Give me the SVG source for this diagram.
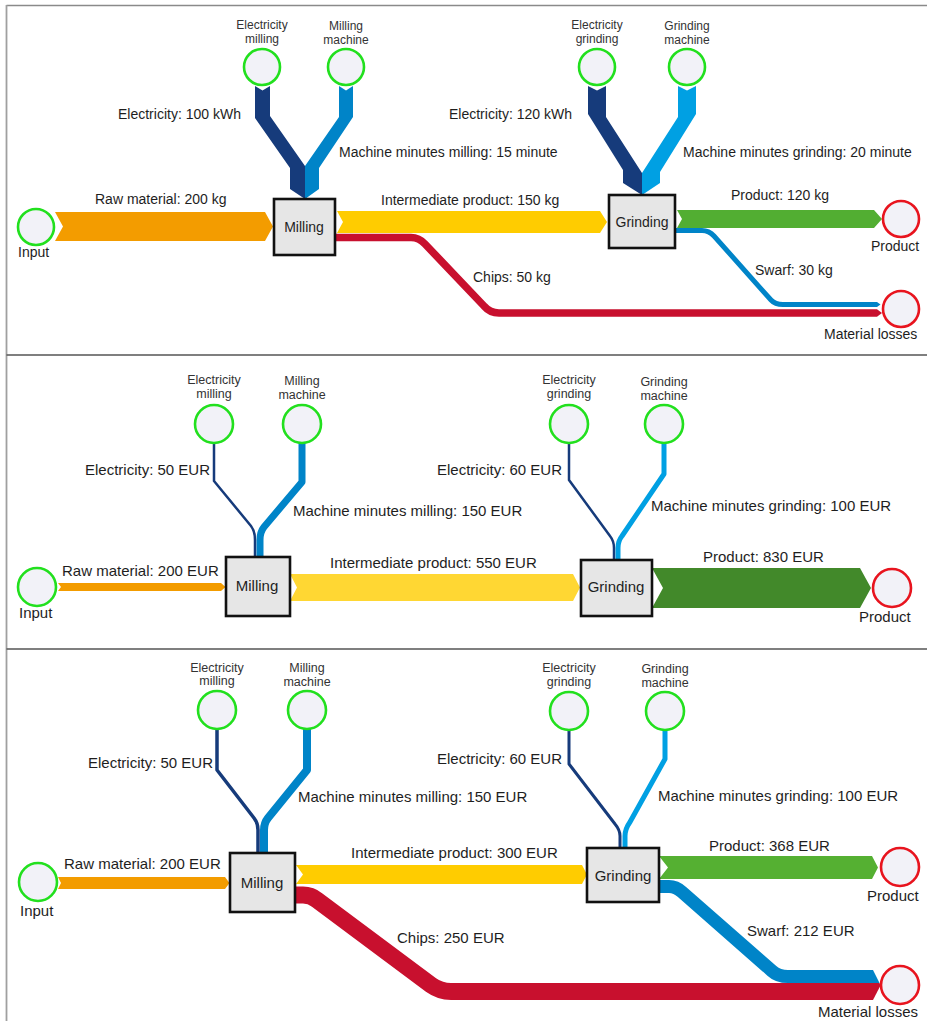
<svg xmlns="http://www.w3.org/2000/svg" width="927" height="1021" viewBox="0 0 927 1021">
  <style>
    text { font-family: "Liberation Sans", Arial, sans-serif; fill: #1e1e1e; }
    .t14 { font-size: 14px; }
    .t15 { font-size: 15px; }
    .s12 { font-size: 12px; fill: #333; text-anchor: middle; }
    .s125 { font-size: 12.5px; fill: #333; text-anchor: middle; }
    .mid { text-anchor: middle; }
    .src { fill: #f2f2f8; stroke: #22e01e; stroke-width: 2.6; }
    .snk { fill: #f2f2f8; stroke: #e8141e; stroke-width: 2.6; }
    .proc { fill: #e6e6e6; stroke: #111; stroke-width: 2.6; }
    .dk { fill: #163b7b; }
    .lb1 { fill: #0084c8; }
    .lb2 { fill: #00a0e3; }
    .sdk { fill: none; stroke: #163b7b; stroke-linejoin: round; }
    .slb1 { fill: none; stroke: #0084c8; stroke-linejoin: round; }
    .slb2 { fill: none; stroke: #00a0e3; stroke-linejoin: round; }
    .sred { fill: none; stroke: #c8102e; stroke-linejoin: round; }
    .red { fill: #c8102e; }
    .org { fill: #f39c00; }
    .frame { stroke: #555; stroke-width: 1.5; }
  </style>

  <!-- panel frame -->
  <g id="frame">
    <line x1="6.5" y1="5.5" x2="927" y2="5.5" stroke="#8a8a8a" stroke-width="1.5"/>
    <line x1="6.5" y1="5" x2="6.5" y2="1021" stroke="#a0a0a0" stroke-width="1.8"/>
    <line class="frame" x1="6.5" y1="355" x2="927" y2="355"/>
    <line class="frame" x1="6.5" y1="649" x2="927" y2="649"/>
  </g>

  <!-- ================= connectors ================= -->
  <g id="connectors">
    <!-- panel 1: mass / energy / time -->
    <polygon class="org" points="55,212 265,212 273,226.5 265,241 55,241 63,226.5"/>
    <polygon class="dk" points="255,86 262.5,90.5 270,86 270,116 305,166 305,199 290,189 290,168 255,118"/>
    <polygon class="lb1" points="339,86 346,90.5 353,86 353,117 319,168 319,189 305,199 305,166 339,117"/>
    <polygon fill="#ffcc00" points="337,211 600,211 607,222 600,233 337,233 343,222"/>
    <path class="sred" stroke-width="7.5" d="M335,237.5 H411 Q419,237.5 425,244 L484,306 Q490,313 499,313 H877"/>
    <polygon class="red" points="877,309.2 882,313 877,316.8"/>
    <polygon class="dk" points="588,86 597,90.5 606,86 606,117 642,173 642,195 623,183 623,170 588,114"/>
    <polygon class="lb2" points="678,86 687,90.5 696,86 696,114 660,172 660,183 642,195 642,173 678,117"/>
    <polygon fill="#52ae32" points="677,210 874,210 882,219 874,228 677,228 682,219"/>
    <path class="slb1" stroke-width="5" d="M675,230.5 H702 Q709,230.5 714,236 L771,300 Q775,304.5 783,304.5 H877"/>
    <polygon class="lb1" points="877,302 880.5,304.5 877,307"/>

    <!-- panel 2: costs -->
    <polygon class="org" points="58,583 221,583 225.5,587 221,591 58,591 61,587"/>
    <path class="sdk" stroke-width="2.5" d="M214,443 V481 L251,526 Q255,531 255,540 V557"/>
    <path class="slb1" stroke-width="7" d="M302,443 V482 L264,527 Q260,532 260,540 V557"/>
    <polygon fill="#ffd733" points="290,574 573,574 580,587.5 573,601 290,601 297,587.5"/>
    <path class="sdk" stroke-width="2.5" d="M569,443 V480 L610,536 Q614,541 614,548 V560"/>
    <path class="slb2" stroke-width="5" d="M664,443 V474 L622,536 Q618,541 618,548 V560"/>
    <polygon fill="#42892a" points="652,568 860,568 871,588 860,608 652,608 663,588"/>

    <!-- panel 3: costs with losses -->
    <polygon class="org" points="58,877 225,877 229.5,883 225,889 58,889 61,883"/>
    <path class="sdk" stroke-width="3.5" d="M217,729 V770 L254,818 Q258,823 258,830 V853"/>
    <path class="slb1" stroke-width="8" d="M307,729 V770 L268,818 Q264,823 264,830 V853"/>
    <polygon fill="#ffcc00" points="296,865 582,865 587,874.5 582,884 296,884 303,874.5"/>
    <path class="sred" stroke-width="17" d="M295,895 H303 Q311,895 317,900 L431,985 Q440,991.5 451,991.5 H873"/>
    <path class="sdk" stroke-width="3" d="M569,729 V764 L615,824 Q620,830 620,836 V848"/>
    <path class="slb2" stroke-width="5" d="M665,729 V759 L630,822 Q625,829 625,836 V848"/>
    <polygon fill="#55b032" points="659,856 872,856 878,867.5 872,879 659,879 668,867.5"/>
    <path class="slb1" stroke-width="13" d="M659,886.5 H669 Q676,886.5 682,892 L772,971 Q778,976.5 788,976.5 H873"/>
    <polygon class="lb1" points="873,970 879.5,983 873,983"/>
    <polygon class="red" points="873,983 879.5,983 880.5,985.5 873,1000"/>
  </g>

  <!-- connector labels -->
  <g id="flow-labels">
    <text class="t14" x="118" y="119">Electricity: 100 kWh</text>
    <text class="t14" x="339" y="157">Machine minutes milling: 15 minute</text>
    <text class="t14" x="95" y="204">Raw material: 200 kg</text>
    <text class="t14" x="381" y="205">Intermediate product: 150 kg</text>
    <text class="t14" x="473" y="282">Chips: 50 kg</text>
    <text class="t14" x="449" y="119">Electricity: 120 kWh</text>
    <text class="t14" x="683" y="157">Machine minutes grinding: 20 minute</text>
    <text class="t14" x="731" y="200">Product: 120 kg</text>
    <text class="t14" x="755" y="275">Swarf: 30 kg</text>

    <text class="t15" x="85" y="475">Electricity: 50 EUR</text>
    <text class="t15" x="293" y="516">Machine minutes milling: 150 EUR</text>
    <text class="t15" x="62" y="576">Raw material: 200 EUR</text>
    <text class="t15" x="330" y="568">Intermediate product: 550 EUR</text>
    <text class="t15" x="437" y="475">Electricity: 60 EUR</text>
    <text class="t15" x="651" y="511">Machine minutes grinding: 100 EUR</text>
    <text class="t15" x="703" y="562">Product: 830 EUR</text>

    <text class="t15" x="88" y="768">Electricity: 50 EUR</text>
    <text class="t15" x="298" y="802">Machine minutes milling: 150 EUR</text>
    <text class="t15" x="64" y="869">Raw material: 200 EUR</text>
    <text class="t15" x="351" y="858">Intermediate product: 300 EUR</text>
    <text class="t15" x="397" y="943">Chips: 250 EUR</text>
    <text class="t15" x="437" y="764">Electricity: 60 EUR</text>
    <text class="t15" x="658" y="801">Machine minutes grinding: 100 EUR</text>
    <text class="t15" x="709" y="851">Product: 368 EUR</text>
    <text class="t15" x="747" y="936">Swarf: 212 EUR</text>
  </g>

  <!-- ================= panel 1 nodes ================= -->
  <g id="p1-input">
    <circle class="src" cx="36" cy="227" r="18"/>
    <text class="t14" x="18" y="257">Input</text>
  </g>
  <g id="p1-elec-milling">
    <circle class="src" cx="262" cy="67" r="18"/>
    <text class="s12" x="262" y="29">Electricity</text>
    <text class="s12" x="262" y="43">milling</text>
  </g>
  <g id="p1-milling-machine">
    <circle class="src" cx="346" cy="67" r="18"/>
    <text class="s12" x="346" y="30">Milling</text>
    <text class="s12" x="346" y="44">machine</text>
  </g>
  <g id="p1-milling">
    <rect class="proc" x="274" y="199" width="61" height="56"/>
    <text class="t14 mid" x="304" y="232">Milling</text>
  </g>
  <g id="p1-elec-grinding">
    <circle class="src" cx="597" cy="67" r="18"/>
    <text class="s12" x="597" y="29">Electricity</text>
    <text class="s12" x="597" y="43">grinding</text>
  </g>
  <g id="p1-grinding-machine">
    <circle class="src" cx="687" cy="67" r="18"/>
    <text class="s12" x="687" y="30">Grinding</text>
    <text class="s12" x="687" y="44">machine</text>
  </g>
  <g id="p1-grinding">
    <rect class="proc" x="609" y="195" width="66" height="53"/>
    <text class="t14 mid" x="642" y="227">Grinding</text>
  </g>
  <g id="p1-product">
    <circle class="snk" cx="901" cy="219" r="18"/>
    <text class="t14" x="871" y="251">Product</text>
  </g>
  <g id="p1-losses">
    <circle class="snk" cx="901" cy="309" r="18"/>
    <text class="t14" x="824" y="339">Material losses</text>
  </g>

  <!-- ================= panel 2 nodes ================= -->
  <g id="p2-input">
    <circle class="src" cx="37" cy="587" r="19"/>
    <text class="t15" x="19" y="618">Input</text>
  </g>
  <g id="p2-elec-milling">
    <circle class="src" cx="214" cy="424" r="19"/>
    <text class="s125" x="214" y="384">Electricity</text>
    <text class="s125" x="214" y="398">milling</text>
  </g>
  <g id="p2-milling-machine">
    <circle class="src" cx="302" cy="424" r="19"/>
    <text class="s125" x="302" y="385">Milling</text>
    <text class="s125" x="302" y="399">machine</text>
  </g>
  <g id="p2-milling">
    <rect class="proc" x="226" y="557" width="64" height="59"/>
    <text class="t15 mid" x="257" y="591">Milling</text>
  </g>
  <g id="p2-elec-grinding">
    <circle class="src" cx="569" cy="424" r="19"/>
    <text class="s125" x="569" y="384">Electricity</text>
    <text class="s125" x="569" y="398">grinding</text>
  </g>
  <g id="p2-grinding-machine">
    <circle class="src" cx="664" cy="424" r="19"/>
    <text class="s125" x="664" y="386">Grinding</text>
    <text class="s125" x="664" y="400">machine</text>
  </g>
  <g id="p2-grinding">
    <rect class="proc" x="581" y="560" width="71" height="56"/>
    <text class="t15 mid" x="616" y="592">Grinding</text>
  </g>
  <g id="p2-product">
    <circle class="snk" cx="892" cy="588" r="19"/>
    <text class="t15" x="859" y="622">Product</text>
  </g>

  <!-- ================= panel 3 nodes ================= -->
  <g id="p3-input">
    <circle class="src" cx="38" cy="882" r="19"/>
    <text class="t15" x="20" y="916">Input</text>
  </g>
  <g id="p3-elec-milling">
    <circle class="src" cx="217" cy="710" r="19"/>
    <text class="s125" x="217" y="672">Electricity</text>
    <text class="s125" x="217" y="685">milling</text>
  </g>
  <g id="p3-milling-machine">
    <circle class="src" cx="307" cy="710" r="19"/>
    <text class="s125" x="307" y="672">Milling</text>
    <text class="s125" x="307" y="686">machine</text>
  </g>
  <g id="p3-milling">
    <rect class="proc" x="230" y="853" width="65" height="59"/>
    <text class="t15 mid" x="262" y="888">Milling</text>
  </g>
  <g id="p3-elec-grinding">
    <circle class="src" cx="569" cy="711" r="19"/>
    <text class="s125" x="569" y="672">Electricity</text>
    <text class="s125" x="569" y="686">grinding</text>
  </g>
  <g id="p3-grinding-machine">
    <circle class="src" cx="665" cy="711" r="19"/>
    <text class="s125" x="665" y="673">Grinding</text>
    <text class="s125" x="665" y="687">machine</text>
  </g>
  <g id="p3-grinding">
    <rect class="proc" x="587" y="848" width="72" height="54"/>
    <text class="t15 mid" x="623" y="881">Grinding</text>
  </g>
  <g id="p3-product">
    <circle class="snk" cx="900" cy="867" r="19"/>
    <text class="t15" x="867" y="901">Product</text>
  </g>
  <g id="p3-losses">
    <circle class="snk" cx="900" cy="985" r="19"/>
    <text class="t15" x="818" y="1017">Material losses</text>
  </g>
</svg>
